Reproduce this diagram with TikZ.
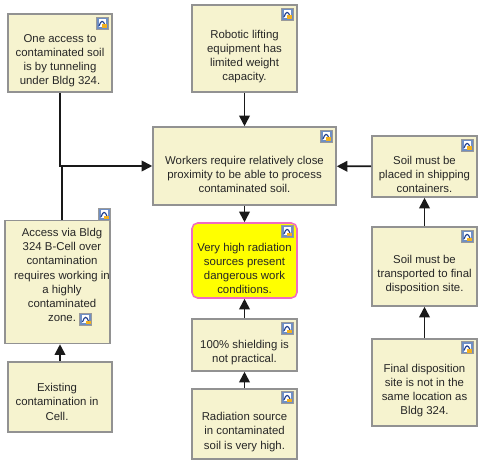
\documentclass[tikz,border=0pt]{standalone}
\usepackage{fontspec}
\setmainfont{Liberation Sans}
\usetikzlibrary{arrows.meta, positioning}
\definecolor{boxfill}{HTML}{F6F3CF}
\definecolor{boxline}{HTML}{929292}
\definecolor{hotfill}{HTML}{FFFF00}
\definecolor{hotline}{HTML}{F06CC0}
\definecolor{iconblue}{HTML}{6F8FC4}
\definecolor{iconline}{HTML}{9A9A9A}
\definecolor{iconnavy}{HTML}{1F3F8F}
\definecolor{iconamber}{HTML}{F2B01E}
\tikzset{
  factor/.style 2 args={draw=boxline, line width=1.1pt, fill=boxfill, inner sep=0pt,
        minimum width=#1*0.025cm, minimum height=#2*0.025cm},
  hazard/.style 2 args={factor={#1}{#2}, draw=hotline, fill=hotfill, rounded corners=4pt},
  factortext/.style={font=\fontsize{8.1}{10}\selectfont, align=center, text=black!85,
        inner sep=0pt, yshift=-5.7pt},
  link/.style={-{Triangle[length=7.5pt,width=7.5pt]}, line width=1.25pt, black!90},
  docicon/.pic={
    \fill[iconblue] (-6,-6) rectangle (6,6);
    \fill[white] (-3.5,4) rectangle (3.5,-4);
    \draw[iconnavy, line width=0.8pt] (-3,3) .. controls (-1,-3) and (1,-3) .. (3,2);
    \fill[iconamber] (0,1.5) rectangle (5,5);
    \draw[iconline, line width=0.6pt] (-6,-6) rectangle (6,6);
  }
}

\begin{document}
\begin{tikzpicture}[x=0.025cm, y=-0.025cm]
  \useasboundingbox (0,0) rectangle (485,465);
  % Left column
  \node[factor={104}{78}, label={[factortext]center:One access to\\contaminated soil\\is by tunneling\\under Bldg 324.}] (oneaccess) at (60,53) {};
  \node[factor={105}{123}, label={[factortext, xshift=3.2pt, yshift=10.7pt]center:Access via Bldg\\324 B-Cell over\\contamination\\requires working in\\a highly\\contaminated\\zone.}] (access) at (57.5,282) {};
  \node[factor={104}{70}, label={[factortext, xshift=-2.1pt, yshift=2.2pt]center:Existing\\contamination in\\Cell.}] (existing) at (60,397) {};
  % Middle column
  \node[factor={105}{87}, label={[factortext]center:Robotic lifting\\equipment has\\limited weight\\capacity.}] (robotic) at (244.5,48.5) {};
  \node[factor={183}{78}, label={[factortext]center:Workers require relatively close\\proximity to be able to process\\contaminated soil.}] (workers) at (244.5,166) {};
  \node[hazard={105}{75}, label={[factortext]center:Very high radiation\\sources present\\dangerous work\\conditions.}] (radiation) at (244.5,260.5) {};
  \node[factor={105}{52}, label={[factortext]center:100\% shielding is\\not practical.}] (shielding) at (244.5,345) {};
  \node[factor={105}{70}, label={[factortext]center:Radiation source\\in contaminated\\soil is very high.}] (source) at (244.5,424) {};
  % Right column
  \node[factor={105}{61}, label={[factortext]center:Soil must be\\placed in shipping\\containers.}] (placed) at (424.5,166.5) {};
  \node[factor={105}{79}, label={[factortext]center:Soil must be\\transported to final\\disposition site.}] (transported) at (424.5,266.5) {};
  \node[factor={105}{87}, label={[factortext]center:Final disposition\\site is not in the\\same location as\\Bldg 324.}] (finalsite) at (424.5,382.5) {};
  % Connectors
  \coordinate (junction) at (62,166);
  \draw[link] (oneaccess.south) |- (workers.west);
  \draw[line width=1.25pt, black!90] (junction |- access.north) -- (junction);
  \draw[link] (existing.north) -- (existing.north |- access.south);
  \draw[link] (robotic) -- (workers);
  \draw[link] (workers) -- (radiation);
  \draw[link] (shielding) -- (radiation);
  \draw[link] (source) -- (shielding);
  \draw[link] (placed) -- (workers);
  \draw[link] (transported) -- (placed);
  \draw[link] (finalsite) -- (transported);
  % Icons
  \foreach \iconx/\icony in {102/23, 104/214, 85.5/319, 287/14, 326/136, 287/231, 287/328, 287/397, 467/145, 467/236, 467/347.5}
    \pic at (\iconx,\icony) {docicon};
\end{tikzpicture}
\end{document}
